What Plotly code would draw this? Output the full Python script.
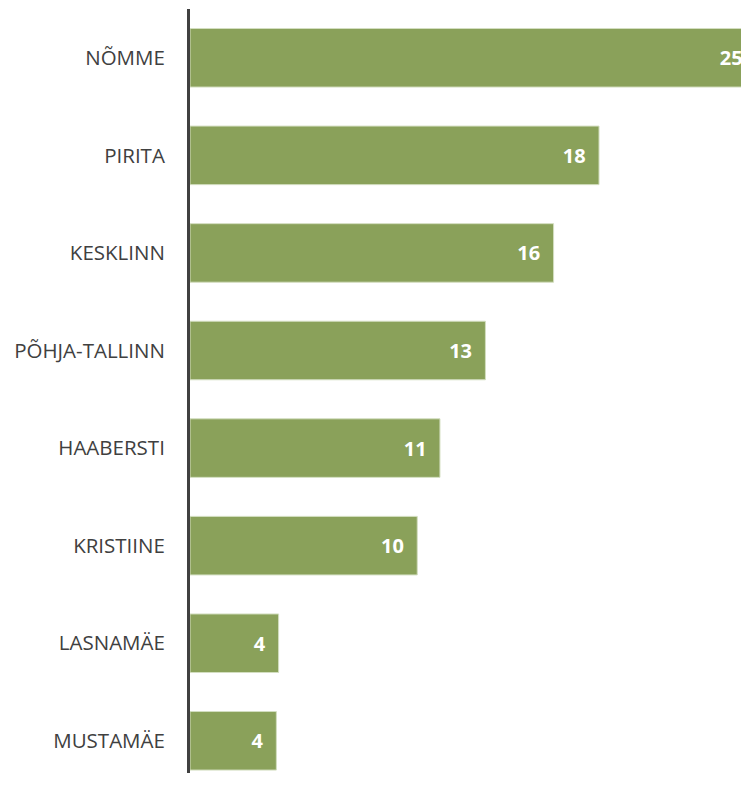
import plotly.graph_objects as go

districts = ["NÕMME", "PIRITA", "KESKLINN", "PÕHJA-TALLINN", "HAABERSTI", "KRISTIINE", "LASNAMÄE", "MUSTAMÄE"]
values = [24.6, 18.0, 16.0, 13.0, 11.0, 10.0, 3.9, 3.8]

# the first bar runs to the plot edge, so its label sits closer to the end
templates = ["%{x:.0f}\u2009"] + ["%{x:.0f}\u00a0\u00a0"] * (len(values) - 1)

fig = go.Figure(go.Bar(
    y=districts, x=values, orientation="h",
    texttemplate=templates,
    textposition="inside", insidetextanchor="end",
    textfont=dict(family="Open Sans", size=20, color="white", weight="bold"),
    marker=dict(color="#8AA15A", line=dict(color="#D3DEC0", width=1)),
    width=0.6, cliponaxis=True,
))
fig.update_layout(
    width=741, height=765,
    margin=dict(l=182, r=0, t=1, b=0),
    plot_bgcolor="white", paper_bgcolor="white",
    showlegend=False,
    xaxis=dict(range=[0, 24.6], visible=False, fixedrange=True),
    yaxis=dict(categoryorder="array", categoryarray=districts,
               range=[7.33, -0.5], autorange=False,
               showline=True, linecolor="#404040", linewidth=3,
               ticks="", ticklabelstandoff=18,
               tickfont=dict(family="Open Sans", size=20.5, color="#404040")),
    uniformtext=dict(mode="show", minsize=20),
)
fig.write_html("out.html")
